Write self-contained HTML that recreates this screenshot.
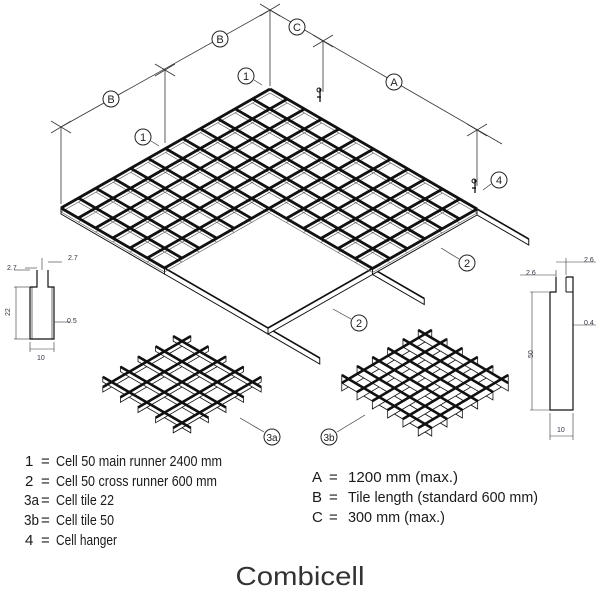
<!DOCTYPE html>
<html><head><meta charset="utf-8"><style>
html,body{margin:0;padding:0;background:#fff;width:600px;height:600px;overflow:hidden}
svg{display:block}
text{font-family:"Liberation Sans",sans-serif}
</style></head><body>
<svg id="s" width="600" height="600" viewBox="0 0 600 600" xmlns="http://www.w3.org/2000/svg">
<g id="g"></g>
<g font-size="11" fill="#222" text-anchor="middle">
<circle cx="111" cy="99" r="8" fill="#fff" stroke="#222"/><text x="111" y="103">B</text>
<circle cx="220" cy="39" r="8" fill="#fff" stroke="#222"/><text x="220" y="43">B</text>
<circle cx="297" cy="27" r="8" fill="#fff" stroke="#222"/><text x="297" y="31">C</text>
<circle cx="394" cy="82" r="8" fill="#fff" stroke="#222"/><text x="394" y="86">A</text>
<circle cx="246" cy="76" r="8" fill="#fff" stroke="#222"/><text x="246" y="80">1</text>
<circle cx="143" cy="137" r="8" fill="#fff" stroke="#222"/><text x="143" y="141">1</text>
<circle cx="499" cy="180" r="8" fill="#fff" stroke="#222"/><text x="499" y="184">4</text>
<circle cx="467" cy="263" r="8" fill="#fff" stroke="#222"/><text x="467" y="267">2</text>
<circle cx="359" cy="323" r="8" fill="#fff" stroke="#222"/><text x="359" y="327">2</text>
<circle cx="272" cy="437" r="8" fill="#fff" stroke="#222"/><text x="272" y="441" font-size="10">3a</text>
<circle cx="329" cy="437" r="8" fill="#fff" stroke="#222"/><text x="329" y="441" font-size="10">3b</text>
</g>
<g stroke="#333" stroke-width="0.7" fill="none">
<line x1="254" y1="80" x2="262" y2="85"/><line x1="151" y1="141" x2="159" y2="146"/>
<line x1="491" y1="184" x2="483" y2="190"/><line x1="459" y1="259" x2="441" y2="248"/>
<line x1="351" y1="319" x2="333" y2="309"/><line x1="264" y1="432" x2="240" y2="418"/>
<line x1="337" y1="432" x2="365" y2="415"/>
</g>
<g font-size="7" fill="#334" >
<text x="7" y="270">2.7</text><text x="68" y="260">2.7</text><text x="67" y="323">0.5</text>
<text x="37" y="360">10</text><text x="10" y="316" transform="rotate(-90 10 316)">22</text>
<text x="526" y="275">2.6</text><text x="584" y="262">2.6</text><text x="584" y="325">0.4</text>
<text x="557" y="432">10</text><text x="533" y="358" transform="rotate(-90 533 358)">50</text>
</g>
<g fill="#1a1a1a" font-size="15">
<text x="25" y="466">1</text><text x="41" y="466">=</text><text x="56" y="466" textLength="166" lengthAdjust="spacingAndGlyphs">Cell 50 main runner 2400 mm</text>
<text x="25" y="486">2</text><text x="41" y="486">=</text><text x="56" y="486" textLength="161" lengthAdjust="spacingAndGlyphs">Cell 50 cross runner 600 mm</text>
<text x="24" y="505" textLength="15" lengthAdjust="spacingAndGlyphs">3a</text><text x="41" y="505">=</text><text x="56" y="505" textLength="58" lengthAdjust="spacingAndGlyphs">Cell tile 22</text>
<text x="24" y="525" textLength="15" lengthAdjust="spacingAndGlyphs">3b</text><text x="41" y="525">=</text><text x="56" y="525" textLength="58" lengthAdjust="spacingAndGlyphs">Cell tile 50</text>
<text x="25" y="545">4</text><text x="41" y="545">=</text><text x="56" y="545" textLength="61" lengthAdjust="spacingAndGlyphs">Cell hanger</text>
<text x="312" y="482">A</text><text x="329" y="482">=</text><text x="348" y="482" textLength="110" lengthAdjust="spacingAndGlyphs">1200 mm (max.)</text>
<text x="312" y="502">B</text><text x="329" y="502">=</text><text x="348" y="502" textLength="190" lengthAdjust="spacingAndGlyphs">Tile length (standard 600 mm)</text>
<text x="312" y="522">C</text><text x="329" y="522">=</text><text x="348" y="522" textLength="97" lengthAdjust="spacingAndGlyphs">300 mm (max.)</text>
</g>
<text x="300" y="585" font-size="26" fill="#333" text-anchor="middle" textLength="129" lengthAdjust="spacingAndGlyphs">Combicell</text>
</svg>
<script>
var g=document.getElementById('g'),NS='http://www.w3.org/2000/svg';
function el(t,a){var e=document.createElementNS(NS,t);for(var k in a)e.setAttribute(k,a[k]);g.appendChild(e);return e;}
function L(x1,y1,x2,y2,w,c){el('line',{x1:x1,y1:y1,x2:x2,y2:y2,stroke:c||'#111','stroke-width':w||1,'stroke-linecap':'butt'});}
function poly(pts,w){el('polygon',{points:pts.map(function(p){return p[0]+','+p[1]}).join(' '),fill:'#fff',stroke:'#111','stroke-width':w||0.8});}
var T=[270,89],u=[-209,119],v=[207,120];
function P(a,b){return [T[0]+a*u[0]+b*v[0],T[1]+a*u[1]+b*v[1]];}
function face(p,q,d,w){poly([p,q,[q[0],q[1]+d],[p[0],p[1]+d]],w);}
function tick(x,y){L(x-10,y+6,x+10,y-6,0.8,'#333');L(x-10,y-6,x+10,y+6,0.8,'#333');}
L(61,127,270,10,0.8,'#333');L(270,10,502,144,0.8,'#333');
L(61,127,61,204,0.8,'#333');L(165,70,165,143,0.8,'#333');L(270,10,270,86,0.8,'#333');
L(323,41,323,92,0.8,'#333');L(477,130,477,186,0.8,'#333');
tick(61,127);tick(165,70);tick(270,10);tick(323,41);tick(477,130);
function runner(a0,b0,a1,b1){var p=P(a0,b0),q=P(a1,b1);face(p,q,6,1);L(p[0],p[1],q[0],q[1],1.6);}
runner(1,0.5,1,1.25);runner(0.5,1,1,1);runner(0.5,1,0.5,1.25);runner(0,1,0,1.25);
face(P(1,0),P(1,0.5),6,1);face(P(0,1),P(0.5,1),6,1);
var k,a,b,p,q;
for(k=0;k<=12;k++){a=k/12;var bm=a<=0.5?1:0.5;p=P(a,0);q=P(a,bm);L(p[0],p[1]+4,q[0],q[1]+4,0.6,'#555');
 b=k/12;var am=b<=0.5?1:0.5;p=P(0,b);q=P(am,b);L(p[0],p[1]+4,q[0],q[1]+4,0.6,'#555');}
for(k=0;k<=12;k++){a=k/12;var bm=a<=0.5?1:0.5;p=P(a,0);q=P(a,bm);L(p[0],p[1],q[0],q[1],2.8);
 b=k/12;var am=b<=0.5?1:0.5;p=P(0,b);q=P(am,b);L(p[0],p[1],q[0],q[1],2.8);}
function hanger(x,y){L(x,y,x,y+14,1.3);el('circle',{cx:x-1,cy:y+2,r:2,fill:'none',stroke:'#111','stroke-width':1});L(x-3,y+9,x+1,y+9,1.3);}
hanger(320,88);hanger(475,179);
function tile(c,A,B,n,d,ts){var i,fs=[];
 for(i=0;i<n;i++){var t=ts[i];
  fs.push([[c[0]-A[0]+t*B[0],c[1]-A[1]+t*B[1]],[c[0]+A[0]+t*B[0],c[1]+A[1]+t*B[1]]]);
  fs.push([[c[0]-B[0]+t*A[0],c[1]-B[1]+t*A[1]],[c[0]+B[0]+t*A[0],c[1]+B[1]+t*A[1]]]);}
 fs.forEach(function(f){face(f[0],f[1],d,0.8);});
 fs.forEach(function(f){L(f[0][0],f[0][1],f[1][0],f[1][1],2.6);});}
tile([182,382],[44,-25.5],[44,25.5],5,5,[-0.8,-0.4,0,0.4,0.8]);
tile([425,379],[45,-26.5],[45,26.5],6,8,[-0.85,-0.51,-0.17,0.17,0.51,0.85]);
el('polyline',{points:'30,287 30,339 54,339 54,287 48,287 48,270',fill:'none',stroke:'#111','stroke-width':1.2});
el('polyline',{points:'37,270 37,287 30,287',fill:'none',stroke:'#111','stroke-width':1.2});
L(32,287,32,339,0.6);L(52,287,52,339,0.6);
el('polyline',{points:'550,292 550,410 573,410 573,277 566,277',fill:'none',stroke:'#111','stroke-width':1.2});
el('polyline',{points:'556,277 556,292 550,292',fill:'none',stroke:'#111','stroke-width':1.2});
L(566,277,566,292,1);L(566,292,573,292,1);
var dl=[[14,287,30,287],[14,339,30,339],[16,287,16,339],[30,342,30,352],[54,342,54,352],[30,349,54,349],
[25,268,37,268],[48,262,62,262],[42,258,42,270],[54,322,70,322],[14,270,30,270],
[530,292,550,292],[530,410,550,410],[532,292,532,410],[550,413,550,440],[573,413,573,440],[550,436,573,436],
[520,275,556,275],[556,262,596,262],[566,258,566,275],[573,325,596,325],[556,270,556,277]];
dl.forEach(function(d){L(d[0],d[1],d[2],d[3],0.6,'#333');});
</script>
</body></html>
